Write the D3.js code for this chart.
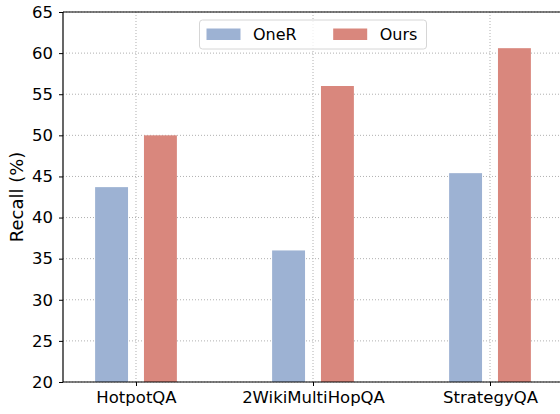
<!DOCTYPE html>
<meta charset="utf-8">
<script src="https://d3js.org/d3.v7.min.js"></script>
<style>
  body { margin: 0; background: #fff; }
  text { font-family: "DejaVu Sans", sans-serif; fill: #000; }
</style>
<div id="my_dataviz"></div>
<script>

// data
var datasets = ["HotpotQA", "2WikiMultiHopQA", "StrategyQA"];
var oneR = [43.7, 36.0, 45.4];
var ours = [50.0, 56.0, 60.6];
var seriesNames = ["OneR", "Ours"];
var seriesColors = ["#9db2d3", "#d9877d"];
var yTicks = [20, 25, 30, 35, 40, 45, 50, 55, 60, 65];

var W = 560, H = 414;
var margin = {top: 12, left: 63, bottom: 32};
var plotRight = 563;

var svg = d3.select("#my_dataviz")
  .append("svg")
    .attr("width", W)
    .attr("height", H);

// scales
var x = d3.scalePoint()
  .domain(datasets)
  .range([margin.left, plotRight])
  .padding(0.4124);

var y = d3.scaleLinear()
  .domain([20, 65])
  .range([H - margin.bottom, margin.top]);

var step = x.step();
var barW = step * 0.186;
var offset = step * 0.138;

// grid
var grid = svg.append("g");
grid.selectAll(".hgrid")
  .data(yTicks)
  .enter()
  .append("line")
    .attr("x1", margin.left)
    .attr("x2", plotRight)
    .attr("y1", function(d) { return y(d); })
    .attr("y2", function(d) { return y(d); })
    .attr("stroke", "#b0b0b0")
    .attr("stroke-width", 1)
    .attr("stroke-dasharray", "1,2");
grid.selectAll(".vgrid")
  .data(datasets)
  .enter()
  .append("line")
    .attr("x1", function(d) { return x(d); })
    .attr("x2", function(d) { return x(d); })
    .attr("y1", y(20))
    .attr("y2", y(65))
    .attr("stroke", "#b0b0b0")
    .attr("stroke-width", 1)
    .attr("stroke-dasharray", "1,2");

// bars
var series = [oneR, ours];
series.forEach(function(vals, si) {
  svg.append("g")
    .selectAll("rect")
    .data(vals)
    .enter()
    .append("rect")
      .attr("x", function(d, i) { return x(datasets[i]) + (si === 0 ? -offset : offset) - barW / 2; })
      .attr("y", function(d) { return y(d); })
      .attr("width", barW)
      .attr("height", function(d) { return y(20) - y(d); })
      .attr("fill", seriesColors[si]);
});

// axes
var yAxis = svg.append("g")
  .attr("transform", "translate(" + margin.left + ",0)")
  .call(d3.axisLeft(y).tickValues(yTicks).tickSize(4).tickPadding(6));
var xAxis = svg.append("g")
  .attr("transform", "translate(0," + y(20) + ")")
  .call(d3.axisBottom(x).tickSize(4).tickPadding(5));

[yAxis, xAxis].forEach(function(a) {
  a.select(".domain").remove();
  a.selectAll("line").attr("stroke", "#000").attr("stroke-width", 1);
  a.selectAll("text").style("font-size", "16.5px").style("font-family", "DejaVu Sans");
});

// spines
svg.append("line")
  .attr("x1", margin.left).attr("x2", margin.left)
  .attr("y1", y(65)).attr("y2", y(20))
  .attr("stroke", "#000").attr("stroke-width", 1.2);
svg.append("line")
  .attr("x1", margin.left).attr("x2", plotRight)
  .attr("y1", y(20)).attr("y2", y(20))
  .attr("stroke", "#000").attr("stroke-width", 1.2);
svg.append("line")
  .attr("x1", margin.left).attr("x2", plotRight)
  .attr("y1", y(65)).attr("y2", y(65))
  .attr("stroke", "#000").attr("stroke-width", 1.2);

// y label
svg.append("text")
  .attr("transform", "translate(17," + (y(42.5)) + ") rotate(-90)")
  .attr("text-anchor", "middle")
  .attr("dy", "0.35em")
  .style("font-size", "18px")
  .text("Recall (%)");

// legend
var legend = svg.append("g").attr("transform", "translate(199.5,20)");
legend.append("rect")
  .attr("width", 227)
  .attr("height", 29)
  .attr("rx", 3)
  .attr("fill", "#fff")
  .attr("fill-opacity", 0.8)
  .attr("stroke", "#d6d6d6")
  .attr("stroke-width", 1);
var items = legend.selectAll(".item")
  .data(seriesNames)
  .enter()
  .append("g")
    .attr("transform", function(d, i) { return "translate(" + (7 + i * 126.7) + ",8.5)"; });
items.append("rect")
  .attr("width", 34)
  .attr("height", 11.5)
  .attr("fill", function(d, i) { return seriesColors[i]; });
items.append("text")
  .attr("x", 46.5)
  .attr("y", 11.5)
  .style("font-size", "16px")
  .text(function(d) { return d; });

</script>
